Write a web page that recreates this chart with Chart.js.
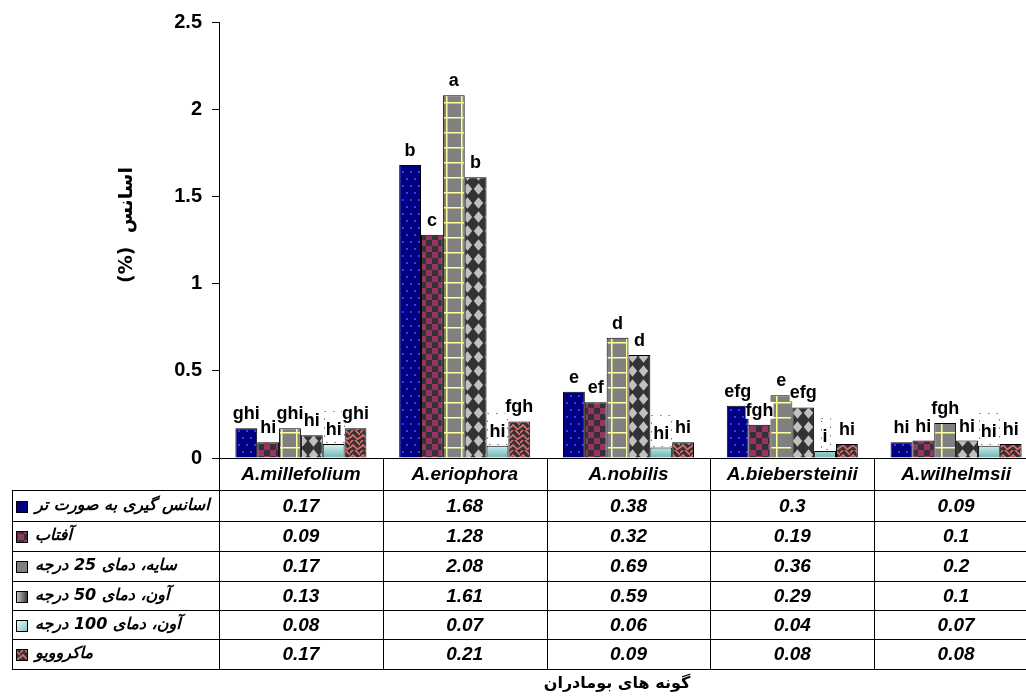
<!DOCTYPE html>
<html>
<head>
<meta charset="utf-8">
<script src="https://cdn.jsdelivr.net/npm/chart.js@4/dist/chart.umd.min.js"></script>
<style>
  html, body { margin: 0; padding: 0; background: #fff; overflow: hidden; }
  #wrap { position: relative; width: 1026px; height: 697px; overflow: hidden; background: #fff; }
  canvas { display: block; }
</style>
</head>
<body>
<div id="wrap"><canvas id="chart" width="1060" height="697" style="width:1060px;height:697px"></canvas></div>
<script>
// Species (categories)
const species = ['A.millefolium', 'A.eriophora', 'A.nobilis', 'A.biebersteinii', 'A.wilhelmsii'];

// Drying / extraction methods (series names)
const methodNames = [
  'اسانس گیری به صورت تر',
  'آفتاب',
  'سایه، دمای 25 درجه',
  'آون، دمای 50 درجه',
  'آون، دمای 100 درجه',
  'ماکروویو'
];

// Essential oil content (%) per method
const fresh     = [0.17, 1.68, 0.38, 0.30, 0.09];
const sun       = [0.09, 1.28, 0.32, 0.19, 0.10];
const shade25   = [0.17, 2.08, 0.69, 0.36, 0.20];
const oven50    = [0.13, 1.61, 0.59, 0.29, 0.10];
const oven100   = [0.08, 0.07, 0.06, 0.04, 0.07];
const microwave = [0.17, 0.21, 0.09, 0.08, 0.08];

// Mean-comparison letters above each bar
const freshLetters     = ['ghi', 'b', 'e', 'efg', 'hi'];
const sunLetters       = ['hi', 'c', 'ef', 'fgh', 'hi'];
const shade25Letters   = ['ghi', 'a', 'd', 'e', 'fgh'];
const oven50Letters    = ['hi', 'b', 'd', 'efg', 'hi'];
const oven100Letters   = ['hi', 'hi', 'hi', 'i', 'hi'];
const microwaveLetters = ['ghi', 'fgh', 'hi', 'hi', 'hi'];

// Table cell text (as printed)
const freshText     = ['0.17', '1.68', '0.38', '0.3', '0.09'];
const sunText       = ['0.09', '1.28', '0.32', '0.19', '0.1'];
const shade25Text   = ['0.17', '2.08', '0.69', '0.36', '0.2'];
const oven50Text    = ['0.13', '1.61', '0.59', '0.29', '0.1'];
const oven100Text   = ['0.08', '0.07', '0.06', '0.04', '0.07'];
const microwaveText = ['0.17', '0.21', '0.09', '0.08', '0.08'];

const yTicks = [0, 0.5, 1, 1.5, 2, 2.5];
const yTitle = 'اسانس  (%)';
const xTitle = 'گونه های بومادران';

// ---------- fill patterns ----------
function makeTile(w, h, draw) {
  const c = document.createElement('canvas');
  c.width = w; c.height = h;
  draw(c.getContext('2d'), w, h);
  return c;
}
const tmp = document.createElement('canvas').getContext('2d');
const tileDots = makeTile(8, 14, g => {
  g.fillStyle = '#000080'; g.fillRect(0, 0, 8, 14);
  g.fillStyle = '#3838ff'; g.fillRect(2, 3, 2, 2); g.fillRect(6, 10, 2, 2);
});
const tileChecker = makeTile(12, 12, g => {
  g.fillStyle = '#333333'; g.fillRect(0, 0, 12, 12);
  g.fillStyle = '#993366'; g.fillRect(0, 0, 6, 6); g.fillRect(6, 6, 6, 6);
});
const tileGrid = makeTile(15, 15, g => {
  g.fillStyle = '#808080'; g.fillRect(0, 0, 15, 15);
  g.fillStyle = '#ffff99'; g.fillRect(11, 0, 1.5, 15); g.fillRect(0, 12, 15, 1.5);
});
const tileDiamond = makeTile(11, 14, g => {
  g.fillStyle = '#333333'; g.fillRect(0, 0, 11, 14);
  g.fillStyle = '#c0c0c0';
  g.beginPath();
  g.moveTo(5.5, 1.2); g.lineTo(10.2, 7); g.lineTo(5.5, 12.8); g.lineTo(0.8, 7);
  g.closePath(); g.fill();
});
const tileWeave = makeTile(10, 10, g => {
  g.fillStyle = '#333333'; g.fillRect(0, 0, 10, 10);
  g.strokeStyle = '#e07070'; g.lineWidth = 1.6;
  g.beginPath();
  g.moveTo(0, 3); g.lineTo(3, 0);
  g.moveTo(0, 8); g.lineTo(3, 5); g.lineTo(8, 10);
  g.moveTo(5, 0); g.lineTo(10, 5);
  g.moveTo(7, 10); g.lineTo(10, 7);
  g.stroke();
});
const pDots = tmp.createPattern(tileDots, 'repeat');
const pChecker = tmp.createPattern(tileChecker, 'repeat');
const pGrid = tmp.createPattern(tileGrid, 'repeat');
const pDiamond = tmp.createPattern(tileDiamond, 'repeat');
const pWeave = tmp.createPattern(tileWeave, 'repeat');

function cyanFill(ctx) {
  const chart = ctx.chart;
  const ca = chart.chartArea;
  if (!ca) return '#bfeeee';
  const g = chart.ctx.createLinearGradient(0, ca.bottom - 16, 0, ca.bottom);
  g.addColorStop(0, '#e4ffff');
  g.addColorStop(1, '#6fb3b3');
  return g;
}

const seriesValues = [fresh, sun, shade25, oven50, oven100, microwave];
const seriesLetters = [freshLetters, sunLetters, shade25Letters, oven50Letters, oven100Letters, microwaveLetters];
const seriesText = [freshText, sunText, shade25Text, oven50Text, oven100Text, microwaveText];
const seriesFills = [pDots, pChecker, pGrid, pDiamond, cyanFill, pWeave];

// ---------- layout of the data table ----------
const tableRows = [458, 490, 521, 551, 581, 610, 639, 669];
const tableLeft = 12;

const FONT_LATIN = '"Liberation Sans", Arial, sans-serif';
const FONT_FA = '"DejaVu Sans", sans-serif';

function drawSwatch(ctx, i, x, y, s) {
  ctx.save();
  if (i === 0) {
    ctx.fillStyle = '#000080';
  } else if (i === 2) {
    ctx.fillStyle = '#808080';
  } else if (i === 4) {
    const g = ctx.createLinearGradient(x, y, x + s, y + s);
    g.addColorStop(0, '#f4ffff'); g.addColorStop(1, '#7fbfbf');
    ctx.fillStyle = g;
  } else if (i === 3) {
    const g = ctx.createLinearGradient(x, y, x + s, y);
    g.addColorStop(0, '#d0d0d0'); g.addColorStop(1, '#333333');
    ctx.fillStyle = g;
  } else {
    ctx.fillStyle = seriesFills[i];
  }
  ctx.fillRect(x, y, s, s);
  ctx.strokeStyle = '#000'; ctx.lineWidth = 1;
  ctx.strokeRect(x + 0.5, y + 0.5, s - 1, s - 1);
  ctx.restore();
}

const letterPlugin = {
  id: 'letters',
  afterDatasetsDraw(chart) {
    const ctx = chart.ctx;
    ctx.save();
    ctx.font = 'bold 18px ' + FONT_LATIN;
    ctx.textAlign = 'center';
    ctx.textBaseline = 'alphabetic';
    chart.data.datasets.forEach((ds, i) => {
      const meta = chart.getDatasetMeta(i);
      meta.data.forEach((bar, j) => {
        const t = seriesLetters[i][j];
        const w = ctx.measureText(t).width;
        const base = bar.y - 9;
        if (i === 4) {
          // framed white label box
          const bx = Math.round(bar.x - w / 2 - 2) + 0.5;
          const by = Math.round(bar.y - 33) + 0.5;
          ctx.fillStyle = '#fff';
          ctx.fillRect(bx, by, w + 4, 31);
          ctx.strokeStyle = '#777';
          ctx.lineWidth = 1;
          ctx.setLineDash([1.5, 7]);
          ctx.strokeRect(bx, by, w + 4, 31);
          ctx.setLineDash([]);
        } else {
          ctx.fillStyle = '#fff';
          ctx.fillRect(bar.x - w / 2, base - 14, w, 17);
        }
        ctx.fillStyle = '#000';
        ctx.fillText(t, bar.x, base);
      });
    });
    ctx.restore();
  }
};

const tablePlugin = {
  id: 'dataTable',
  afterDraw(chart) {
    const ctx = chart.ctx;
    const ca = chart.chartArea;
    const xs = chart.scales.x;
    const n = species.length;
    const colW = (ca.right - ca.left) / n;
    const rightEdge = chart.width;
    const px = v => Math.round(v) + 0.5;
    ctx.save();
    ctx.strokeStyle = '#000';
    ctx.lineWidth = 1;

    // baseline + table rows
    ctx.beginPath();
    ctx.moveTo(ca.left, px(tableRows[0])); ctx.lineTo(rightEdge, px(tableRows[0]));
    for (let r = 1; r < tableRows.length; r++) {
      ctx.moveTo(tableLeft, px(tableRows[r])); ctx.lineTo(rightEdge, px(tableRows[r]));
    }
    // column separators
    for (let c = 0; c <= n; c++) {
      const x = px(ca.left + c * colW);
      ctx.moveTo(x, c === 0 ? ca.bottom : tableRows[0]);
      ctx.lineTo(x, tableRows[tableRows.length - 1]);
    }
    ctx.moveTo(px(tableLeft), tableRows[1]); ctx.lineTo(px(tableLeft), tableRows[tableRows.length - 1]);
    ctx.stroke();

    // header: species names
    ctx.fillStyle = '#000';
    ctx.textAlign = 'center';
    ctx.textBaseline = 'middle';
    ctx.font = 'italic bold 19px ' + FONT_LATIN;
    species.forEach((s, j) => {
      ctx.fillText(s, xs.getPixelForValue(j), (tableRows[0] + tableRows[1]) / 2 + 1);
    });
    // value rows
    seriesText.forEach((row, i) => {
      const cy = (tableRows[i + 1] + tableRows[i + 2]) / 2 + 1;
      row.forEach((t, j) => ctx.fillText(t, xs.getPixelForValue(j), cy));
    });

    // legend column
    methodNames.forEach((name, i) => {
      const cy = (tableRows[i + 1] + tableRows[i + 2]) / 2;
      drawSwatch(ctx, i, 16, Math.round(cy - 5), 12);
      ctx.save();
      ctx.direction = 'rtl';
      ctx.textAlign = 'left';
      ctx.textBaseline = 'middle';
      ctx.font = 'italic bold 16px ' + FONT_FA;
      ctx.fillStyle = '#000';
      ctx.fillText(name, 35, cy);
      ctx.restore();
    });

    // axis titles
    ctx.save();
    ctx.translate(127, 225);
    ctx.rotate(-Math.PI / 2);
    ctx.direction = 'rtl';
    ctx.textAlign = 'center';
    ctx.textBaseline = 'middle';
    ctx.font = 'bold 19px ' + FONT_FA;
    ctx.fillText(yTitle, 0, 0);
    ctx.restore();

    ctx.save();
    ctx.direction = 'rtl';
    ctx.textAlign = 'center';
    ctx.textBaseline = 'middle';
    ctx.font = 'bold 16px ' + FONT_FA;
    ctx.fillText(xTitle, 617, 684);
    ctx.restore();

    ctx.restore();
  }
};

new Chart(document.getElementById('chart'), {
  type: 'bar',
  data: {
    labels: species,
    datasets: seriesValues.map((vals, i) => ({
      label: methodNames[i],
      data: vals,
      backgroundColor: seriesFills[i],
      borderColor: '#000',
      borderWidth: 1,
      categoryPercentage: 0.8,
      barPercentage: 1.0
    }))
  },
  options: {
    responsive: false,
    animation: false,
    devicePixelRatio: 1,
    layout: { padding: { top: 21, right: 22, bottom: 239, left: 0 } },
    plugins: { legend: { display: false }, tooltip: { enabled: false } },
    scales: {
      x: { display: false },
      y: {
        min: 0, max: 2.5,
        afterFit(scale) { scale.width = 219; },
        afterBuildTicks(scale) { scale.ticks = yTicks.map(v => ({ value: v })); },
        ticks: {
          color: '#000',
          padding: 10,
          font: { family: FONT_LATIN, weight: 'bold', size: 20 },
          callback: v => String(v)
        },
        grid: { drawOnChartArea: false, drawTicks: true, tickLength: 7, color: '#000' },
        border: { color: '#000', width: 1 }
      }
    }
  },
  plugins: [letterPlugin, tablePlugin]
});
</script>
</body>
</html>
